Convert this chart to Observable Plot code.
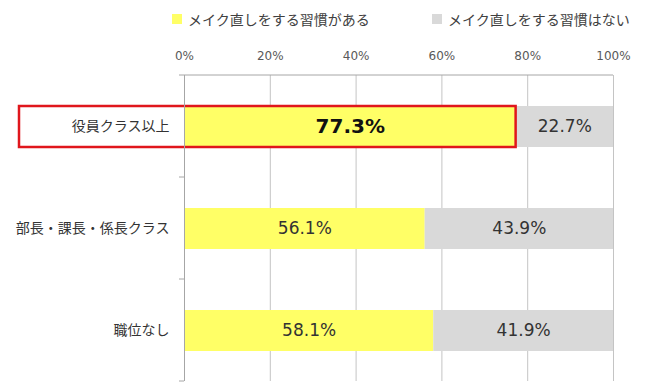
<!DOCTYPE html>
<html>
<head>
<meta charset="utf-8">
<script src="https://cdn.jsdelivr.net/npm/d3@7"></script>
<script src="https://cdn.jsdelivr.net/npm/@observablehq/plot@0.6"></script>
<style>
  html, body { margin: 0; padding: 0; background: #fff; }
  #wrap { position: relative; width: 650px; height: 387px; overflow: hidden;
          font-family: "DejaVu Sans", "Noto Sans CJK JP", sans-serif; }
  #legend { position: absolute; top: 9px; left: 0; width: 650px; height: 20px; font-size: 14px; color: #404040; }
  .item { position: absolute; top: 0; display: flex; align-items: center; height: 20px; white-space: nowrap; font-family: "Noto Sans CJK JP", sans-serif; }
  .sw { width: 10px; height: 10px; margin-right: 6px; }
  #chart { position: absolute; top: 0; left: 0; }
</style>
</head>
<body>
<div id="wrap">
  <div id="chart"></div>
  <div id="legend"></div>
</div>
<script>
const categories = ["役員クラス以上", "部長・課長・係長クラス", "職位なし"];
const seriesNames = ["メイク直しをする習慣がある", "メイク直しをする習慣はない"];
const yesValues = [77.3, 56.1, 58.1];
const noValues = [22.7, 43.9, 41.9];
const xTicks = [0, 20, 40, 60, 80, 100];
const seriesColors = ["#FFFF66", "#D9D9D9"];
const highlighted = "役員クラス以上";

const rows = [];
categories.forEach((c, i) => {
  rows.push({cat: c, series: seriesNames[0], value: yesValues[i], x1: 0, x2: yesValues[i]});
  rows.push({cat: c, series: seriesNames[1], value: noValues[i], x1: yesValues[i], x2: yesValues[i] + noValues[i]});
});
rows.forEach(d => { d.mid = (d.x1 + d.x2) / 2; d.bold = d.cat === highlighted && d.series === seriesNames[0]; });

const legend = document.getElementById("legend");
const legendLeft = [172, 432];
seriesNames.forEach((s, i) => {
  const it = document.createElement("div");
  it.className = "item";
  it.style.left = legendLeft[i] + "px";
  it.innerHTML = `<span class="sw" style="background:${seriesColors[i]}"></span><span>${s}</span>`;
  legend.appendChild(it);
});

const font = "'DejaVu Sans', 'Noto Sans CJK JP', sans-serif";

const plot = Plot.plot({
  width: 650,
  height: 387,
  marginLeft: 184,
  marginRight: 37,
  marginTop: 75,
  marginBottom: 6,
  style: {fontFamily: font, background: "#fff", overflow: "visible"},
  x: {domain: [0, 100], ticks: xTicks, tickFormat: d => d + "%", label: null},
  y: {domain: categories, paddingInner: 0.6, paddingOuter: 0.3, align: 0.5, label: null},
  color: {domain: seriesNames, range: seriesColors},
  marks: [
    Plot.ruleX(xTicks, {x: d => d, stroke: "#c4c4c4", strokeWidth: 1}),
    Plot.barX(rows, {x1: "x1", x2: "x2", y: "cat", fill: "series"}),
    Plot.barX(rows.filter(d => d.bold), {x1: 0, x2: "x2", y: "cat", fill: "none",
      stroke: "#E0161C", strokeWidth: 2.5, insetLeft: -165, insetTop: 0, insetBottom: 0}),
    Plot.text(rows.filter(d => !d.bold), {x: "mid", y: "cat", text: d => d.value.toFixed(1) + "%",
      fontSize: 17, fill: "#333333"}),
    Plot.text(rows.filter(d => d.bold), {x: "mid", y: "cat", text: d => d.value.toFixed(1) + "%",
      fontSize: 20, fontWeight: "bold", fill: "#111111"}),
    Plot.axisX({anchor: "top", ticks: xTicks, tickSize: 0, tickPadding: 16, fontSize: 12, color: "#595959",
      tickFormat: d => d + "%", label: null}),
    Plot.axisY({tickSize: 0, tickPadding: 15, fontSize: 14, color: "#333333", label: null}),
    Plot.ruleX([0], {stroke: "#a6a6a6", strokeWidth: 1})
  ]
});
document.getElementById("chart").appendChild(plot);

// boundary ticks along the left axis and the top baseline, drawn from the plot's own y scale
const ys = plot.scale("y");
const xs = plot.scale("x");
const svg = d3.select(plot);
const step = (ys.range[1] - ys.range[0]) / (categories.length - ys.paddingInner + 2 * ys.paddingOuter);
const bounds = d3.range(categories.length + 1).map(i => ys.range[0] + i * step);
const x0 = xs.apply(0);
svg.append("g").selectAll("line").data(bounds).join("line")
  .attr("x1", x0 - 5).attr("x2", x0)
  .attr("y1", d => d).attr("y2", d => d)
  .attr("stroke", "#a6a6a6");
svg.append("line")
  .attr("x1", x0).attr("x2", xs.apply(100))
  .attr("y1", ys.range[0]).attr("y2", ys.range[0])
  .attr("stroke", "#a6a6a6");
</script>
</body>
</html>
